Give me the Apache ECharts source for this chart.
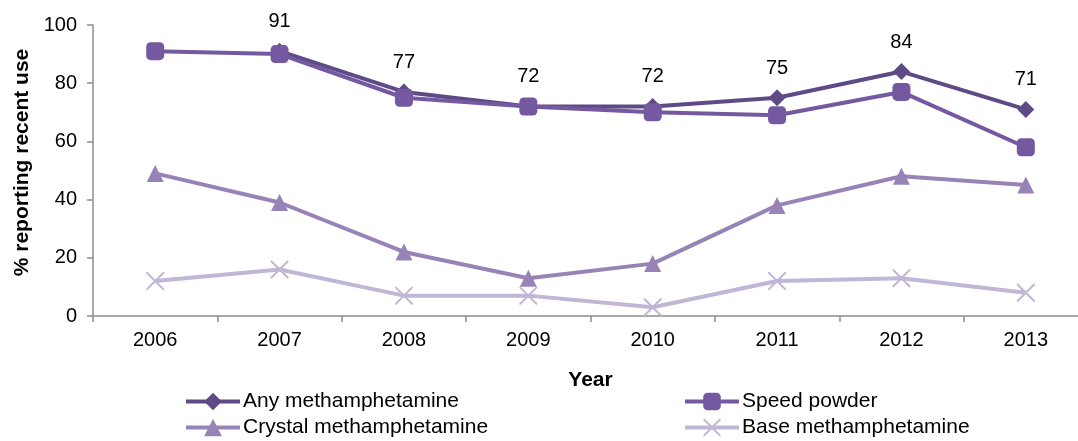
<!DOCTYPE html>
<html>
<head>
<meta charset="utf-8">
<script src="https://cdn.jsdelivr.net/npm/echarts@6/dist/echarts.min.js"></script>
<style>
  html, body { margin: 0; padding: 0; background: #fff; }
  #chart { width: 1078px; height: 441px; }
</style>
</head>
<body>
<div id="chart"></div>
<script>
// Survey years and % reporting recent use by methamphetamine form
const years = ['2006', '2007', '2008', '2009', '2010', '2011', '2012', '2013'];
const anyMeth = [null, 91, 77, 72, 72, 75, 84, 71];
const speedPowder = [91, 90, 75, 72, 70, 69, 77, 58];
const crystalMeth = [49, 39, 22, 13, 18, 38, 48, 45];
const baseMeth = [12, 16, 7, 7, 3, 12, 13, 8];
const yTicks = [0, 20, 40, 60, 80, 100];

const FONT = '"Liberation Sans", Arial, sans-serif';
const crossPath = 'path://M0,0L1.6,0L10,8.4L18.4,0L20,0L20,1.6L11.6,10L20,18.4L20,20L18.4,20L10,11.6L1.6,20L0,20L0,18.4L8.4,10L0,1.6Z';

const chart = echarts.init(document.getElementById('chart'), null, { renderer: 'canvas' });

function lineSeries(name, data, color, symbol, size, extra) {
  return Object.assign({
    name: name,
    type: 'line',
    data: data,
    symbol: symbol,
    symbolSize: size,
    showAllSymbol: true,
    connectNulls: false,
    lineStyle: { color: color, width: 4 },
    itemStyle: { color: color },
    emphasis: { disabled: true },
    animation: false
  }, extra || {});
}

const legendCommon = {
  orient: 'vertical',
  top: 391,
  itemWidth: 54,
  itemHeight: 22,
  itemGap: 5,
  padding: 0,
  lineStyle: { width: 4 },
  textStyle: { fontFamily: FONT, fontSize: 21, color: '#000', padding: [0, 0, 0, -2] }
};

chart.setOption({
  backgroundColor: '#ffffff',
  textStyle: { fontFamily: FONT },
  grid: {
    left: 93, top: 25, width: 995, height: 291,
    containLabel: false,
    outerBoundsMode: 'none'
  },
  xAxis: {
    type: 'category',
    data: years,
    boundaryGap: true,
    name: 'Year',
    nameLocation: 'middle',
    nameGap: 54,
    nameTextStyle: { fontFamily: FONT, fontSize: 21, fontWeight: 'bold', color: '#000' },
    axisLine: { show: true, lineStyle: { color: '#8c8c8c', width: 1.5 } },
    axisTick: { show: true, alignWithLabel: false, length: 6, lineStyle: { color: '#8c8c8c', width: 1.5 } },
    axisLabel: { fontFamily: FONT, fontSize: 20, color: '#000', margin: 14 },
    splitLine: { show: false }
  },
  yAxis: {
    type: 'value',
    min: yTicks[0],
    max: yTicks[yTicks.length - 1],
    interval: yTicks[1] - yTicks[0],
    name: '% reporting recent use',
    nameLocation: 'middle',
    nameGap: 58,
    nameRotate: 90,
    nameTextStyle: { fontFamily: FONT, fontSize: 21, fontWeight: 'bold', color: '#000', padding: [0, 0, 0, 16] },
    axisLine: { show: true, lineStyle: { color: '#8c8c8c', width: 1.5 } },
    axisTick: { show: true, length: 6, lineStyle: { color: '#8c8c8c', width: 1.5 } },
    axisLabel: { fontFamily: FONT, fontSize: 20, color: '#000', margin: 16 },
    splitLine: { show: false }
  },
  legend: [
    Object.assign({ left: 184, data: ['Any methamphetamine', 'Crystal methamphetamine'] }, legendCommon),
    Object.assign({ left: 683, data: ['Speed powder', 'Base methamphetamine'] }, legendCommon)
  ],
  series: [
    lineSeries('Base methamphetamine', baseMeth, '#c1b6d5', crossPath, 18, { z: 2 }),
    lineSeries('Crystal methamphetamine', crystalMeth, '#9783b6', 'triangle', 17, { z: 3 }),
    lineSeries('Any methamphetamine', anyMeth, '#5e4a85', 'diamond', 17, {
      z: 4,
      label: {
        show: true,
        position: 'top',
        distance: 11,
        fontFamily: FONT,
        fontSize: 20,
        color: '#000',
        formatter: p => (p.value == null ? '' : String(p.value))
      }
    }),
    lineSeries('Speed powder', speedPowder, '#7559a0', 'roundRect', 18, { z: 5 })
  ]
});
</script>
</body>
</html>
